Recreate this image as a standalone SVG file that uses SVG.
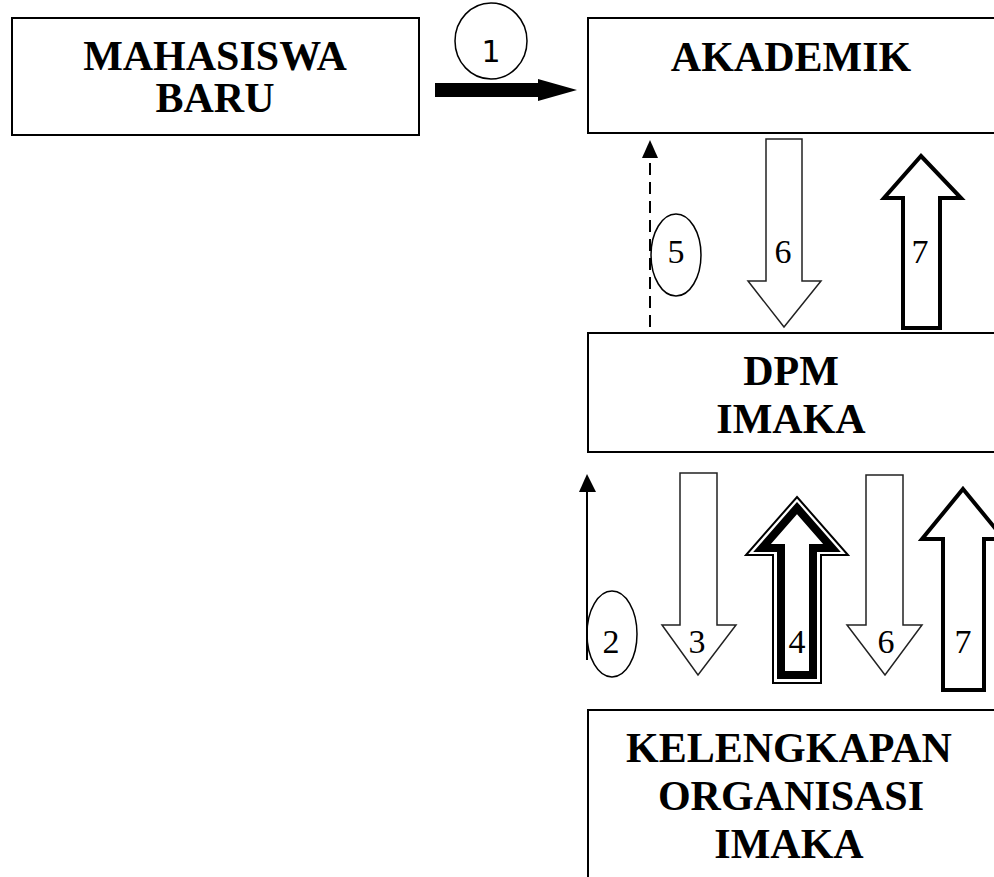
<svg xmlns="http://www.w3.org/2000/svg" width="994" height="877" viewBox="0 0 994 877">
<style>
.box{fill:#fff;stroke:#000;stroke-width:2}
.t{font-family:"Liberation Serif","Times New Roman",serif;font-weight:bold;font-size:42px;fill:#000;text-anchor:middle}
.n{font-family:"Liberation Serif","Times New Roman",serif;font-size:34px;fill:#000;text-anchor:middle}
.thin{fill:#fff;stroke:#222;stroke-width:1.5;stroke-linejoin:miter}
.thick{fill:#fff;stroke:#000;stroke-width:4;stroke-linejoin:miter}
.oval{fill:none;stroke:#000;stroke-width:1.5}
</style>
<rect width="994" height="877" fill="#fff"/>
<g id="node-mahasiswa">
<rect class="box" x="12" y="18" width="407" height="117"/>
<text class="t" x="215" y="70">MAHASISWA</text>
<text class="t" x="215" y="112">BARU</text>
</g>
<g id="node-akademik">
<rect class="box" x="588" y="18" width="420" height="115"/>
<text class="t" x="791" y="71">AKADEMIK</text>
</g>
<g id="node-dpm">
<rect class="box" x="588" y="333" width="420" height="119"/>
<text class="t" x="791" y="385">DPM</text>
<text class="t" x="791" y="433">IMAKA</text>
</g>
<g id="node-kelengkapan">
<rect class="box" x="588" y="710" width="420" height="180"/>
<text class="t" x="789" y="762">KELENGKAPAN</text>
<text class="t" x="791" y="810">ORGANISASI</text>
<text class="t" x="789" y="858">IMAKA</text>
</g>
<g id="connectors">
<polygon points="435,83 538,83 538,79 577,90 538,101 538,97 435,97" fill="#000"/>
<ellipse class="oval" cx="491" cy="41" rx="36" ry="38"/>
<text x="491" y="62" font-family="'DejaVu Sans','Noto Sans',sans-serif" font-size="30" text-anchor="middle">1</text>
<line x1="650" y1="327" x2="650" y2="156" stroke="#000" stroke-width="2" stroke-dasharray="12 7"/>
<polygon points="650,140 642,158 658,158" fill="#000"/>
<ellipse class="oval" cx="676" cy="255" rx="25" ry="41"/>
<text class="n" x="676" y="263">5</text>
<polygon class="thin" points="766,139 802,139 802,281 821,281 784,327 748,281 766,281"/>
<text class="n" x="783" y="263">6</text>
<polygon class="thick" points="921,156 961,198 940,198 940,328 903,328 903,198 884,198"/>
<text class="n" x="920" y="263">7</text>
<line x1="587" y1="660" x2="587" y2="490" stroke="#000" stroke-width="2"/>
<polygon points="587,474 579,492 596,492" fill="#000"/>
<ellipse class="oval" cx="612" cy="634" rx="25" ry="43"/>
<text class="n" x="611" y="653">2</text>
<polygon class="thin" points="680,473 717,473 717,625 736,625 698,675 662,625 680,625"/>
<text class="n" x="697" y="653">3</text>
<polygon points="797,497 848,555 821,555 821,683 773,683 773,555 746,555" fill="#fff" stroke="#000" stroke-width="2"/>
<polygon points="797,508 832,548 813,548 813,675 781,675 781,548 762,548" fill="#fff" stroke="#000" stroke-width="8" stroke-linejoin="miter"/>
<text class="n" x="797" y="653">4</text>
<polygon class="thin" points="866,475 903,475 903,625 922,625 885,675 847,625 866,625"/>
<text class="n" x="886" y="653">6</text>
<polygon class="thick" points="963,489 1004,539 984,539 984,690 943,690 943,539 922,539"/>
<text class="n" x="963" y="653">7</text>
</g>
</svg>
